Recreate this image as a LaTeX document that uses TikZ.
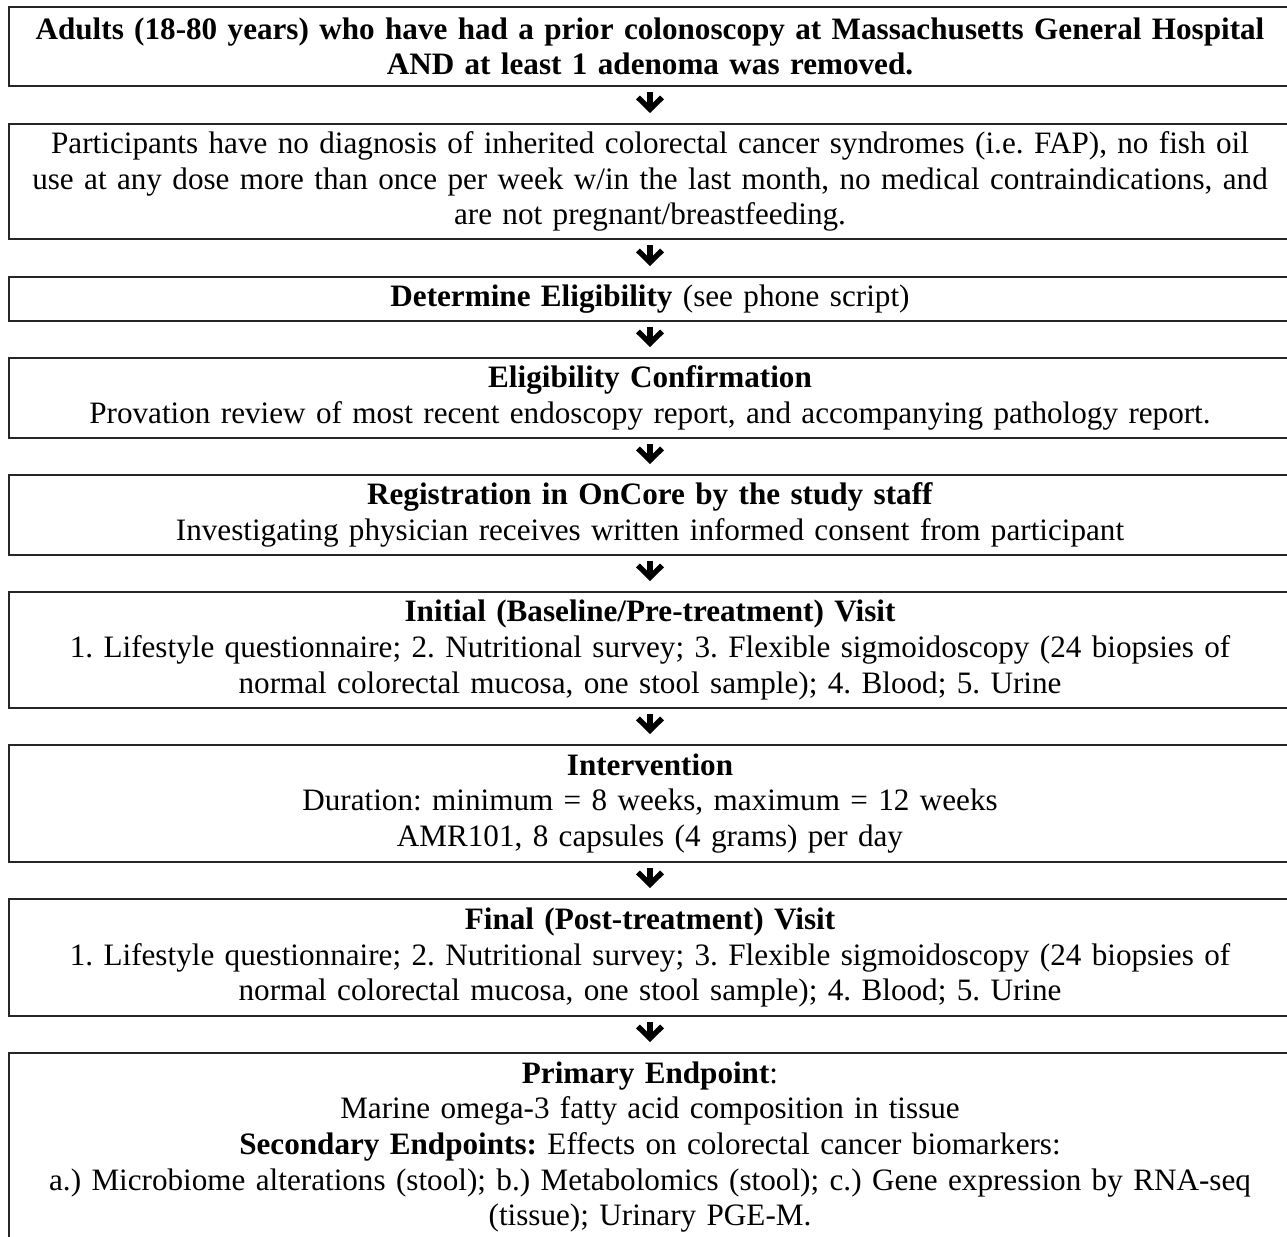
\documentclass[tikz,border=0pt]{standalone}
\usepackage{fontspec}
\setmainfont{Liberation Serif}
\usetikzlibrary{arrows.meta}
\newlength\pxu \setlength\pxu{0.39pt}
\frenchspacing
\begin{document}
\begin{tikzpicture}[x=\pxu,y=-\pxu,
  box/.style={draw=black!85, line width=0.8pt, anchor=north, minimum width=1282\pxu,
    text width=1270\pxu, align=center, inner sep=0pt,
    font=\fontsize{12.15pt}{13.9pt}\selectfont\frenchspacing},
  flow/.style={line width=2.1pt, -{Straight Barb[length=4.6pt,width=9.4pt]},
    shorten <=5\pxu, shorten >=10\pxu}]
\useasboundingbox (0,0) rectangle (1287,1236);
\clip (0,0) rectangle (1287,1236);
\node[box, minimum height=79\pxu] (b1) at (650,6)
  {\textbf{Adults (18-80 years) who have had a prior colonoscopy at Massachusetts General Hospital}\\
   \textbf{AND at least 1 adenoma was removed.}};
\node[box, minimum height=115\pxu] (b2) at (650,123)
  {Participants have no diagnosis of inherited colorectal cancer syndromes (i.e. FAP), no fish oil\\
   use at any dose more than once per week w/in the last month, no medical contraindications, and\\
   are not pregnant/breastfeeding.};
\node[box, minimum height=44\pxu] (b3) at (650,276)
  {\textbf{Determine Eligibility} (see phone script)};
\node[box, minimum height=80\pxu] (b4) at (650,357)
  {\textbf{Eligibility Confirmation}\\
   Provation review of most recent endoscopy report, and accompanying pathology report.};
\node[box, minimum height=80\pxu] (b5) at (650,474)
  {\textbf{Registration in OnCore by the study staff}\\
   Investigating physician receives written informed consent from participant};
\node[box, minimum height=116\pxu] (b6) at (650,591)
  {\textbf{Initial (Baseline/Pre-treatment) Visit}\\
   1. Lifestyle questionnaire; 2. Nutritional survey; 3. Flexible sigmoidoscopy (24 biopsies of\\
   normal colorectal mucosa, one stool sample); 4. Blood; 5. Urine};
\node[box, minimum height=117\pxu] (b7) at (650,744)
  {\textbf{Intervention}\\
   Duration: minimum = 8 weeks, maximum = 12 weeks\\
   AMR101, 8 capsules (4 grams) per day};
\node[box, minimum height=117\pxu] (b8) at (650,898)
  {\textbf{Final (Post-treatment) Visit}\\
   1. Lifestyle questionnaire; 2. Nutritional survey; 3. Flexible sigmoidoscopy (24 biopsies of\\
   normal colorectal mucosa, one stool sample); 4. Blood; 5. Urine};
\node[box, minimum height=188\pxu] (b9) at (650,1052)
  {\textbf{Primary Endpoint}:\\
   Marine omega-3 fatty acid composition in tissue\\
   \textbf{Secondary Endpoints:} Effects on colorectal cancer biomarkers:\\
   a.) Microbiome alterations (stool); b.) Metabolomics (stool); c.) Gene expression by RNA-seq\\
   (tissue); Urinary PGE-M.};
\draw[flow] (b1) -- (b2);
\draw[flow] (b2) -- (b3);
\draw[flow] (b3) -- (b4);
\draw[flow] (b4) -- (b5);
\draw[flow] (b5) -- (b6);
\draw[flow] (b6) -- (b7);
\draw[flow] (b7) -- (b8);
\draw[flow] (b8) -- (b9);
\end{tikzpicture}
\end{document}
